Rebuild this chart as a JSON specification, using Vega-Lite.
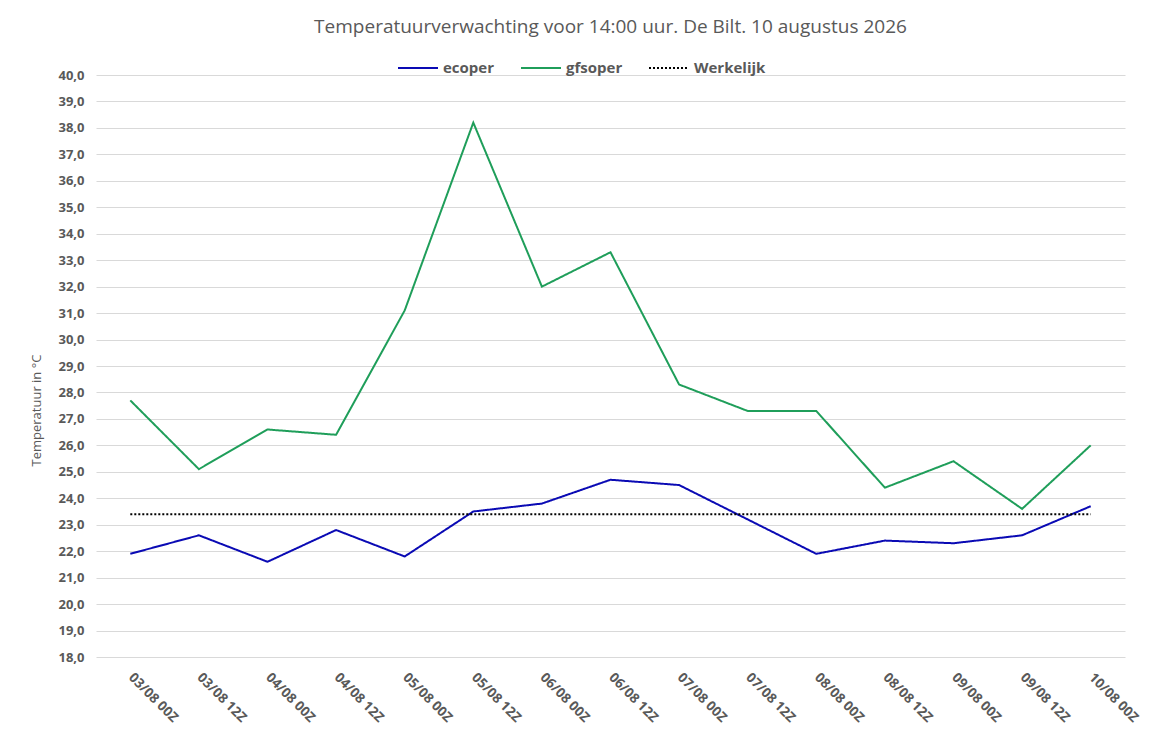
{
  "$schema": "https://vega.github.io/schema/vega-lite/v6.json",
  "autosize": "none",
  "width": 1029,
  "height": 582,
  "padding": {"left": 96, "top": 75, "right": 28, "bottom": 96},
  "background": "white",
  "title": {
    "text": "Temperatuurverwachting voor 14:00 uur. De Bilt. 10 augustus 2026",
    "font": "Open Sans",
    "fontSize": 19,
    "fontWeight": "normal",
    "color": "#595959",
    "anchor": "middle",
    "frame": "group",
    "offset": 10
  },
  "data": {
    "values": [
      {"t": "03/08 00Z", "s": "ecoper", "v": 21.9},
      {"t": "03/08 12Z", "s": "ecoper", "v": 22.6},
      {"t": "04/08 00Z", "s": "ecoper", "v": 21.6},
      {"t": "04/08 12Z", "s": "ecoper", "v": 22.8},
      {"t": "05/08 00Z", "s": "ecoper", "v": 21.8},
      {"t": "05/08 12Z", "s": "ecoper", "v": 23.5},
      {"t": "06/08 00Z", "s": "ecoper", "v": 23.8},
      {"t": "06/08 12Z", "s": "ecoper", "v": 24.7},
      {"t": "07/08 00Z", "s": "ecoper", "v": 24.5},
      {"t": "07/08 12Z", "s": "ecoper", "v": 23.2},
      {"t": "08/08 00Z", "s": "ecoper", "v": 21.9},
      {"t": "08/08 12Z", "s": "ecoper", "v": 22.4},
      {"t": "09/08 00Z", "s": "ecoper", "v": 22.3},
      {"t": "09/08 12Z", "s": "ecoper", "v": 22.6},
      {"t": "10/08 00Z", "s": "ecoper", "v": 23.7},
      {"t": "03/08 00Z", "s": "gfsoper", "v": 27.7},
      {"t": "03/08 12Z", "s": "gfsoper", "v": 25.1},
      {"t": "04/08 00Z", "s": "gfsoper", "v": 26.6},
      {"t": "04/08 12Z", "s": "gfsoper", "v": 26.4},
      {"t": "05/08 00Z", "s": "gfsoper", "v": 31.1},
      {"t": "05/08 12Z", "s": "gfsoper", "v": 38.2},
      {"t": "06/08 00Z", "s": "gfsoper", "v": 32.0},
      {"t": "06/08 12Z", "s": "gfsoper", "v": 33.3},
      {"t": "07/08 00Z", "s": "gfsoper", "v": 28.3},
      {"t": "07/08 12Z", "s": "gfsoper", "v": 27.3},
      {"t": "08/08 00Z", "s": "gfsoper", "v": 27.3},
      {"t": "08/08 12Z", "s": "gfsoper", "v": 24.4},
      {"t": "09/08 00Z", "s": "gfsoper", "v": 25.4},
      {"t": "09/08 12Z", "s": "gfsoper", "v": 23.6},
      {"t": "10/08 00Z", "s": "gfsoper", "v": 26.0},
      {"t": "03/08 00Z", "s": "Werkelijk", "v": 23.4},
      {"t": "03/08 12Z", "s": "Werkelijk", "v": 23.4},
      {"t": "04/08 00Z", "s": "Werkelijk", "v": 23.4},
      {"t": "04/08 12Z", "s": "Werkelijk", "v": 23.4},
      {"t": "05/08 00Z", "s": "Werkelijk", "v": 23.4},
      {"t": "05/08 12Z", "s": "Werkelijk", "v": 23.4},
      {"t": "06/08 00Z", "s": "Werkelijk", "v": 23.4},
      {"t": "06/08 12Z", "s": "Werkelijk", "v": 23.4},
      {"t": "07/08 00Z", "s": "Werkelijk", "v": 23.4},
      {"t": "07/08 12Z", "s": "Werkelijk", "v": 23.4},
      {"t": "08/08 00Z", "s": "Werkelijk", "v": 23.4},
      {"t": "08/08 12Z", "s": "Werkelijk", "v": 23.4},
      {"t": "09/08 00Z", "s": "Werkelijk", "v": 23.4},
      {"t": "09/08 12Z", "s": "Werkelijk", "v": 23.4},
      {"t": "10/08 00Z", "s": "Werkelijk", "v": 23.4}
    ]
  },
  "mark": {"type": "line", "strokeWidth": 2},
  "encoding": {
    "x": {
      "field": "t",
      "type": "ordinal",
      "sort": null,
      "scale": {"type": "point", "padding": 0.5},
      "axis": {
        "title": null,
        "labelAngle": 45,
        "labelAlign": "left",
        "labelBaseline": "middle",
        "labelFont": "Open Sans",
        "labelFontSize": 13.5,
        "labelFontWeight": "bold",
        "labelColor": "#595959",
        "labelPadding": 18,
        "ticks": false,
        "domain": false,
        "grid": false
      }
    },
    "y": {
      "field": "v",
      "type": "quantitative",
      "scale": {"domain": [18, 40], "nice": false, "zero": false},
      "axis": {
        "title": "Temperatuur in °C",
        "titleFont": "Open Sans",
        "titleFontSize": 13,
        "titleFontWeight": "normal",
        "titleColor": "#595959",
        "titlePadding": 14,
        "titleY": 335,
        "values": [18,19,20,21,22,23,24,25,26,27,28,29,30,31,32,33,34,35,36,37,38,39,40],
        "labelExpr": "replace(format(datum.value, '.1f'), '.', ',')",
        "labelFont": "Open Sans",
        "labelFontSize": 13,
        "labelFontWeight": "bold",
        "labelColor": "#595959",
        "labelPadding": 12,
        "ticks": false,
        "domain": false,
        "grid": true,
        "gridColor": "#d9d9d9",
        "gridWidth": 1
      }
    },
    "color": {
      "field": "s",
      "type": "nominal",
      "scale": {"domain": ["ecoper", "gfsoper", "Werkelijk"], "range": ["#0a0ab4", "#1f9e5a", "#000000"]},
      "legend": {
        "title": null,
        "orient": "none",
        "legendX": 301,
        "legendY": -28,
        "direction": "horizontal",
        "symbolType": "stroke",
        "symbolSize": 1600,
        "symbolStrokeWidth": 2,
        "labelFont": "Open Sans",
        "labelFontSize": 15,
        "labelFontWeight": "bold",
        "labelColor": "#595959",
        "labelOffset": 4,
        "columnPadding": 22
      }
    },
    "strokeDash": {
      "field": "s",
      "type": "nominal",
      "scale": {"domain": ["ecoper", "gfsoper", "Werkelijk"], "range": [[1, 0], [1, 0], [2, 2]]},
      "legend": null
    },
    "strokeWidth": {
      "field": "s",
      "type": "nominal",
      "scale": {"domain": ["ecoper", "gfsoper", "Werkelijk"], "range": [2, 2, 1.5]},
      "legend": null
    }
  },
  "config": {"view": {"stroke": null}}
}
